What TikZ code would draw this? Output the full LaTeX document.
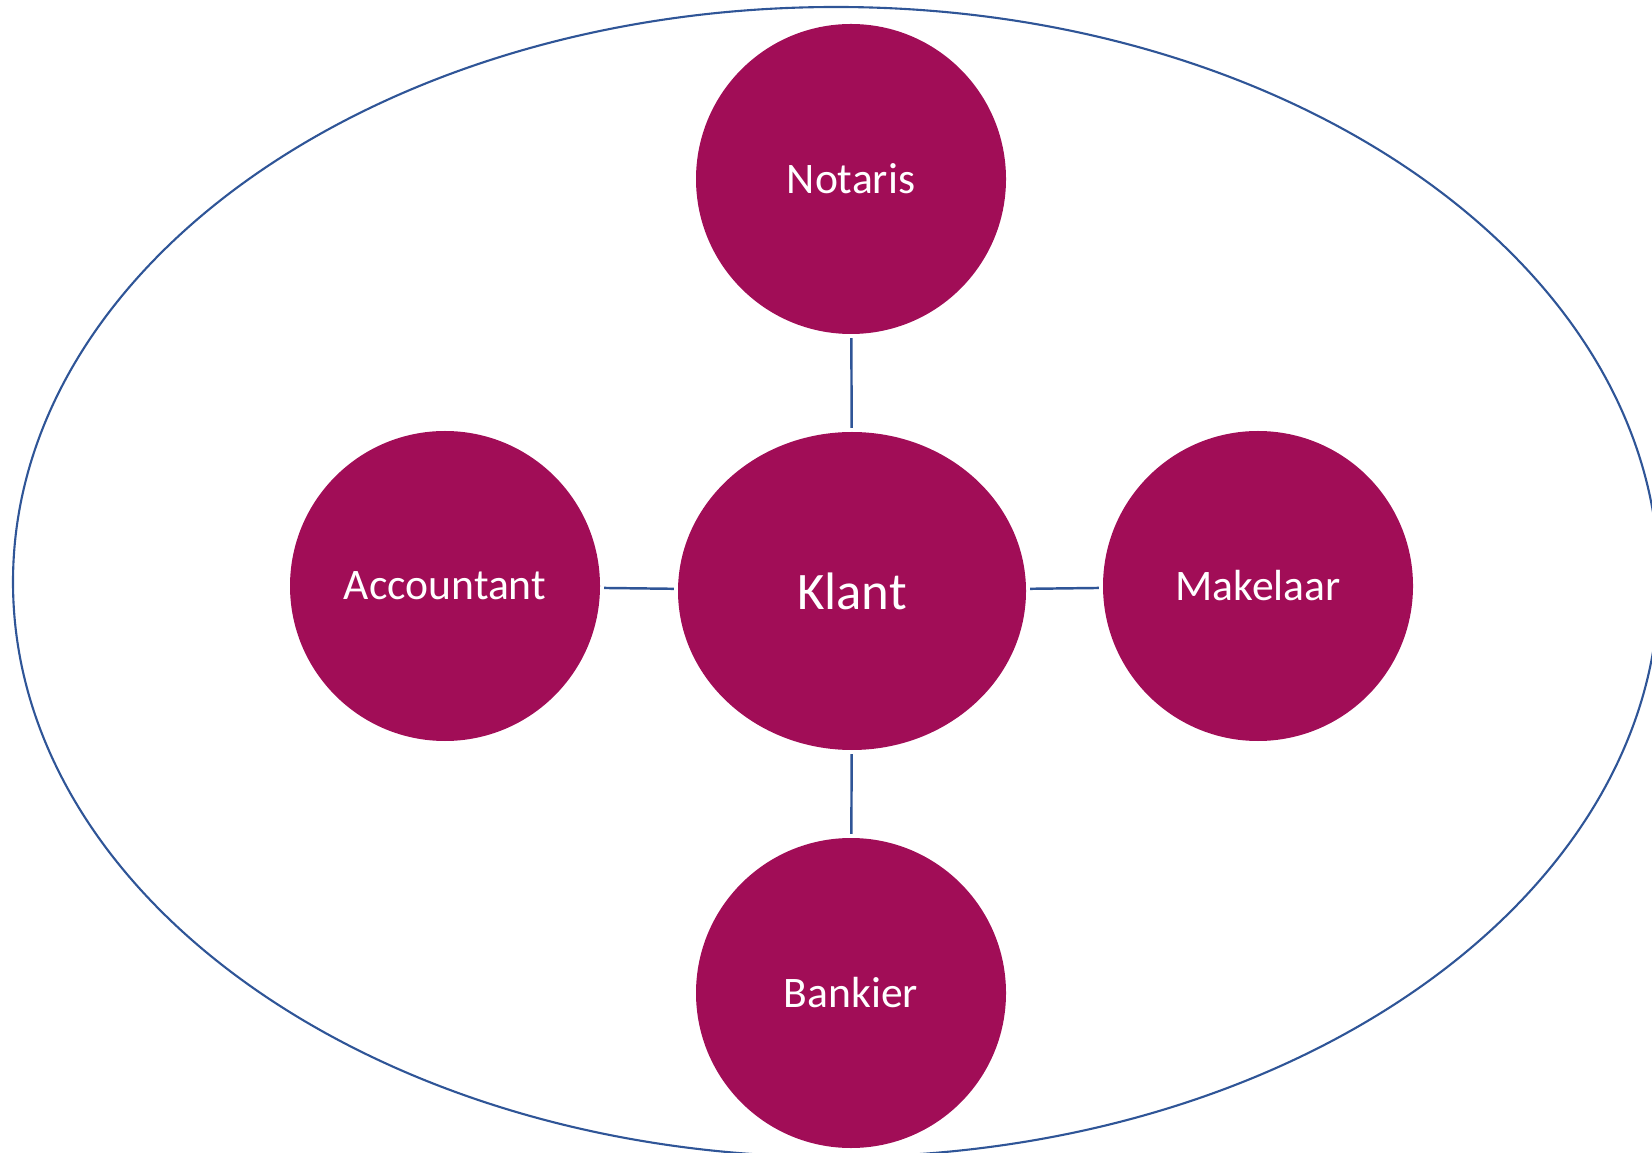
\documentclass[tikz,border=0pt]{standalone}
\usepackage{fontspec}
\setmainfont{Carlito}
\usetikzlibrary{shapes.geometric}
\definecolor{partner}{RGB}{161,13,87}
\definecolor{lijn}{RGB}{47,85,151}

\begin{document}
\begin{tikzpicture}[partij/.style={circle, fill=partner, text=white, minimum size=3.1cm, inner sep=0pt, font=\fontsize{12.4}{14}\selectfont},
                    verbind/.style={draw=lijn, line width=0.7pt, shorten <=1pt, shorten >=1pt}]
                      \useasboundingbox (0,0) rectangle (16.52,-11.53);
                      \begin{scope}
                      \clip (0,0) rectangle (16.52,-11.53);
                      \draw[lijn, line width=0.6pt] (8.36,-5.82) ellipse [x radius=8.23, y radius=5.75];
                      \end{scope}
                      \node[ellipse, fill=partner, text=white, minimum width=3.48cm, minimum height=3.18cm, inner sep=0pt, font=\fontsize{15}{18}\selectfont] (klant) at (8.52,-5.91) {Klant};
                      \node[partij] (notaris) at (8.51,-1.79) {Notaris};
                      \node[partij] (accountant) at (4.45,-5.86) {Accountant};
                      \node[partij] (makelaar) at (12.58,-5.86) {Makelaar};
                      \node[partij] (bankier) at (8.51,-9.93) {Bankier};
                      \draw[verbind] (notaris) -- (klant);
                      \draw[verbind] (accountant) -- (klant);
                      \draw[verbind] (klant) -- (makelaar);
                      \draw[verbind] (klant) -- (bankier);
                  \end{tikzpicture}
\end{document}
